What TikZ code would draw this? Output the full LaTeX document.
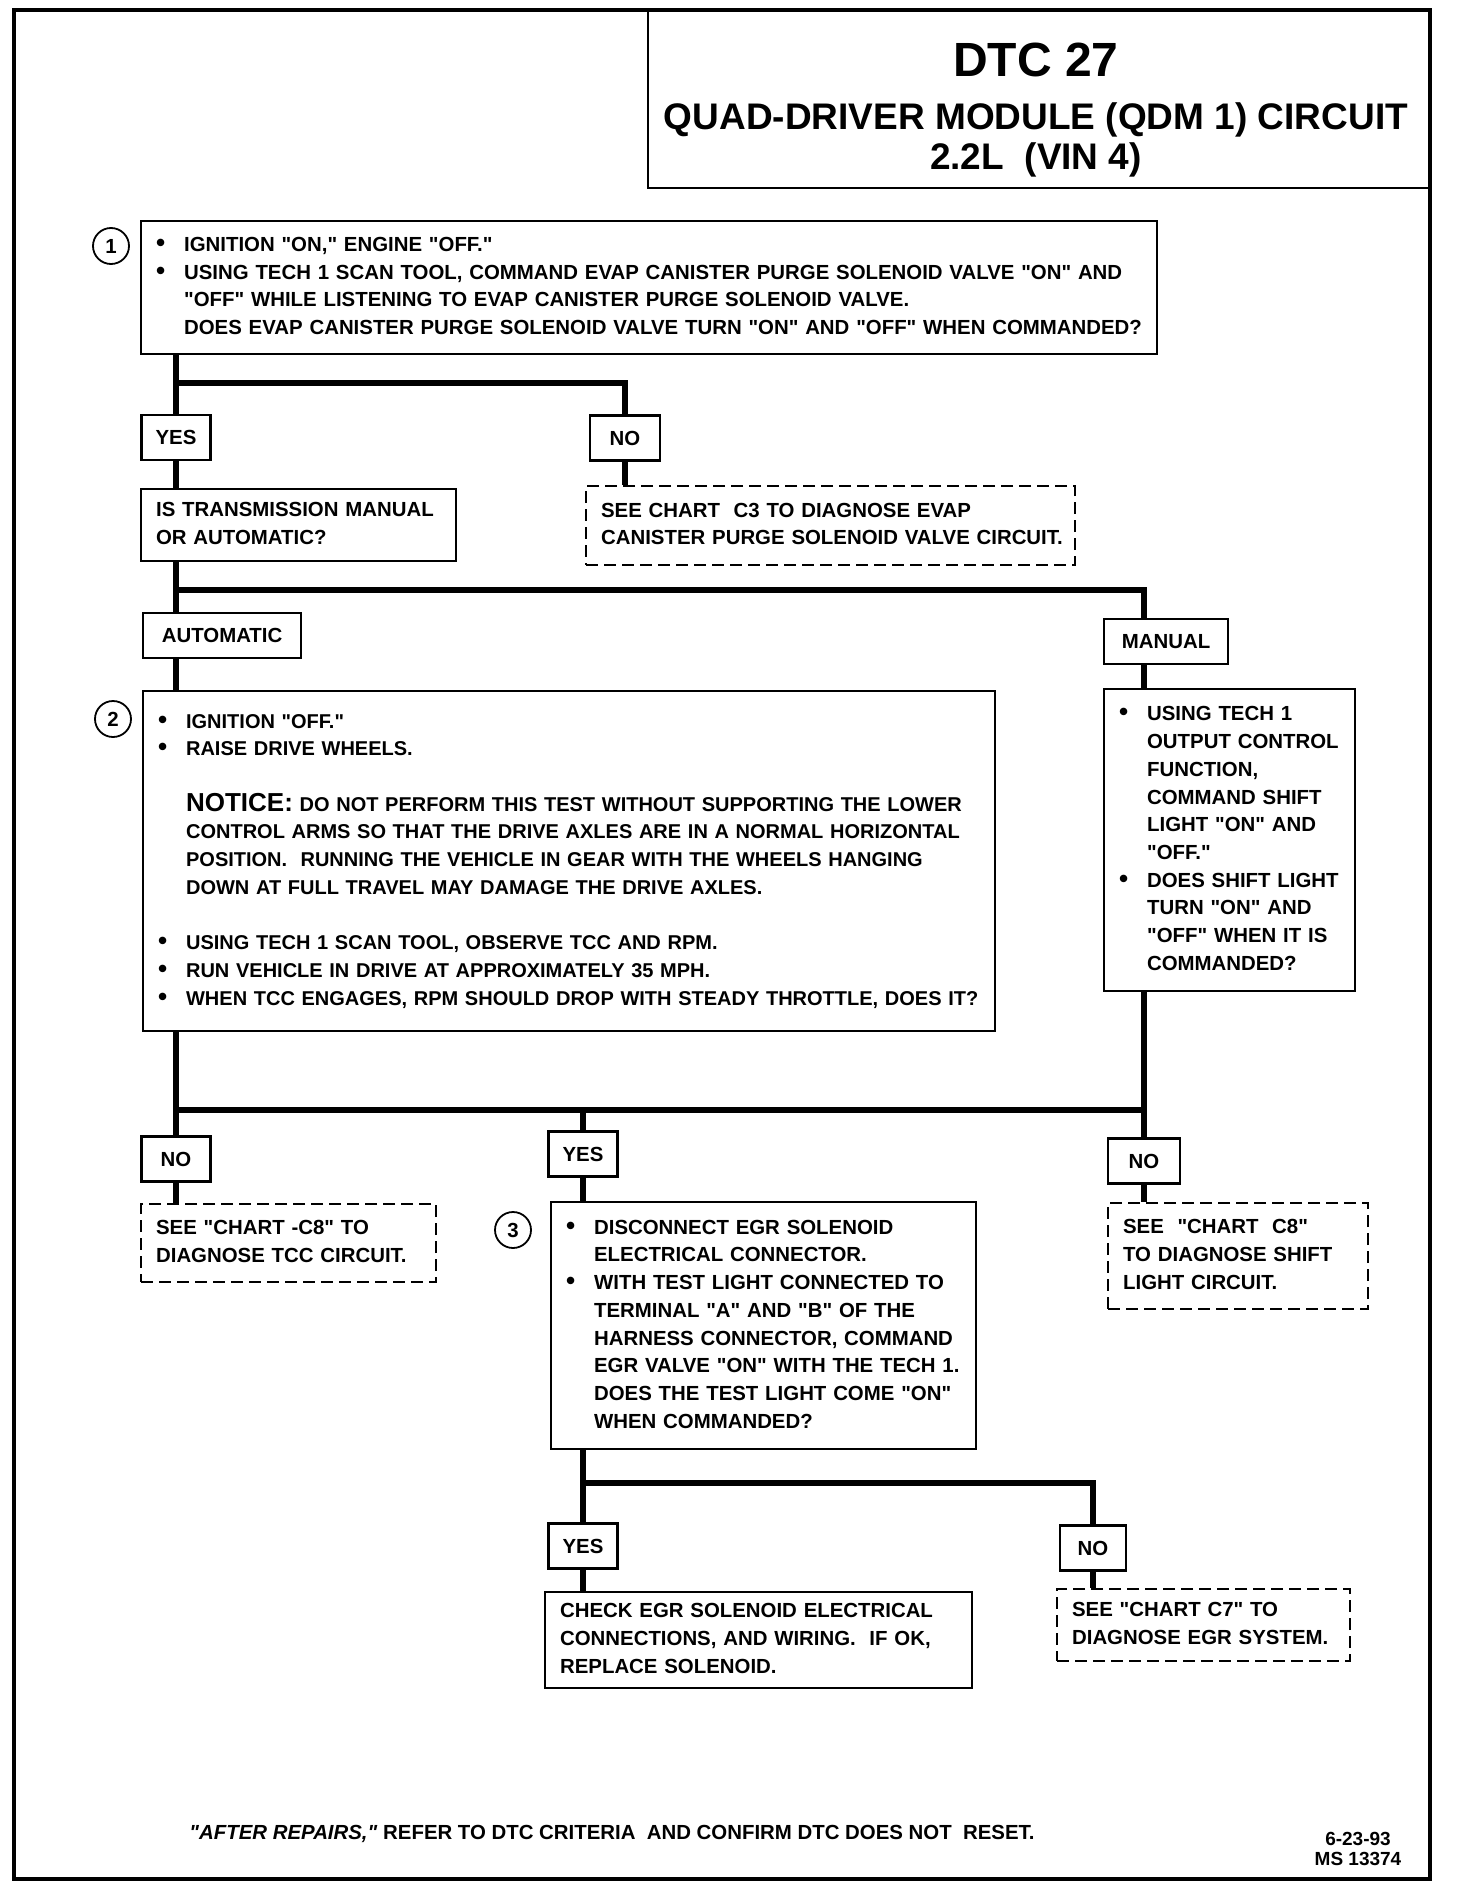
\documentclass[tikz,border=0pt]{standalone}
\usepackage{fontspec}
\setmainfont{Liberation Sans}[Ligatures=TeXOff]
\usepackage{tikz}
\newcommand{\bul}{\makebox[14pt][l]{\fontsize{13}{13}\selectfont\textbullet}}
\newcommand{\indt}{\hspace*{14pt}}
\newcommand{\boxtext}[1]{\begin{tabular}{@{}l@{}}#1\end{tabular}}

\begin{document}
\begin{tikzpicture}[x=0.5pt,y=-0.5pt,
  every node/.style={font=\fontsize{10.2}{13.85}\selectfont\bfseries},
  box/.style={draw,line width=1.1pt,anchor=north west,align=left,inner xsep=7.5pt,inner ysep=0pt},
  dbox/.style={box,dash pattern=on 6pt off 3pt},
  lbl/.style={draw,line width=1.1pt,fill=white,minimum height=22.5pt,minimum width=33pt,inner xsep=7pt},
  num/.style={draw,circle,line width=0.9pt,minimum size=18pt,inner sep=0pt},
  wire/.style={line width=2.6pt}]
\useasboundingbox (0,0) rectangle (1456,1888);
\draw[line width=1.8pt] (14,10) rectangle (1430,1879);
\draw[line width=1.1pt] (648,10) rectangle (1430,188);
\node[font=\fontsize{24}{28}\selectfont\bfseries] (dtc) at (1036,60) {DTC 27};
\node[font=\fontsize{18.5}{20}\selectfont\bfseries,align=center] (name) at (1036,140)
{QUAD-DRIVER MODULE (QDM 1) CIRCUIT\\2.2L\ \ (VIN 4)};

\node[box,text width=493pt,minimum height=66.5pt] (q1) at (140,220) {\boxtext{%
\bul IGNITION "ON," ENGINE "OFF."\\
\bul USING TECH 1 SCAN TOOL, COMMAND EVAP CANISTER PURGE SOLENOID VALVE "ON" AND\\
\indt "OFF" WHILE LISTENING TO EVAP CANISTER PURGE SOLENOID VALVE.\\
\indt DOES EVAP CANISTER PURGE SOLENOID VALVE TURN "ON" AND "OFF" WHEN COMMANDED?}};
\node[num] (n1) at (111,246) {1};

\node[lbl] (yes1) at (176,437.5) {YES};
\node[lbl,minimum width=35pt] (no1) at (625,438) {NO};
\node[box,text width=142.5pt,minimum height=36pt] (trans) at (140,488) {\boxtext{%
IS TRANSMISSION MANUAL\\
OR AUTOMATIC?}};
\node[dbox,text width=229.5pt,minimum height=39.5pt] (c3) at (585,485) {\boxtext{%
SEE CHART\ \ C3 TO DIAGNOSE EVAP\\
CANISTER PURGE SOLENOID VALVE CIRCUIT.}};

\node[lbl,anchor=north west,minimum width=79pt] (auto) at (142,612) {AUTOMATIC};
\node[lbl,anchor=north west,minimum width=62pt] (manl) at (1103,618) {MANUAL};

\node[box,text width=411pt,minimum height=170pt,font=\fontsize{10}{13.85}\selectfont\bfseries] (q2) at (142,690) {\boxtext{%
\bul IGNITION "OFF."\\
\bul RAISE DRIVE WHEELS.\\[13.85pt]
\indt{\fontsize{13}{13.85}\selectfont NOTICE:}\ DO NOT PERFORM THIS TEST WITHOUT SUPPORTING THE LOWER\\
\indt CONTROL ARMS SO THAT THE DRIVE AXLES ARE IN A NORMAL HORIZONTAL\\
\indt POSITION.\ \ RUNNING THE VEHICLE IN GEAR WITH THE WHEELS HANGING\\
\indt DOWN AT FULL TRAVEL MAY DAMAGE THE DRIVE AXLES.\\[13.85pt]
\bul USING TECH 1 SCAN TOOL, OBSERVE TCC AND RPM.\\
\bul RUN VEHICLE IN DRIVE AT APPROXIMATELY 35 MPH.\\
\bul WHEN TCC ENGAGES, RPM SHOULD DROP WITH STEADY THROTTLE, DOES IT?}};
\node[num] (n2) at (113,719) {2};

\node[box,text width=110.5pt,minimum height=151pt] (man) at (1103,688) {\boxtext{%
\bul USING TECH 1\\
\indt OUTPUT CONTROL\\
\indt FUNCTION,\\
\indt COMMAND SHIFT\\
\indt LIGHT "ON" AND\\
\indt "OFF."\\
\bul DOES SHIFT LIGHT\\
\indt TURN "ON" AND\\
\indt "OFF" WHEN IT IS\\
\indt COMMANDED?}};

\node[lbl,minimum width=34.5pt] (no3) at (176,1159) {NO};
\node[lbl] (yes3) at (583,1154) {YES};
\node[lbl,minimum width=36pt] (no4) at (1144,1161) {NO};

\node[dbox,text width=132.5pt,minimum height=39pt] (c8a) at (140,1203) {\boxtext{%
SEE "CHART -C8" TO\\
DIAGNOSE TCC CIRCUIT.}};
\node[box,text width=197.5pt,minimum height=123.5pt] (q3) at (550,1201) {\boxtext{%
\bul DISCONNECT EGR SOLENOID\\
\indt ELECTRICAL CONNECTOR.\\
\bul WITH TEST LIGHT CONNECTED TO\\
\indt TERMINAL "A" AND "B" OF THE\\
\indt HARNESS CONNECTOR, COMMAND\\
\indt EGR VALVE "ON" WITH THE TECH 1.\\
\indt DOES THE TEST LIGHT COME "ON"\\
\indt WHEN COMMANDED?}};
\node[num] (n3) at (513,1230) {3};
\node[dbox,text width=115pt,minimum height=53pt] (c8b) at (1107,1202) {\boxtext{%
SEE\ \ "CHART\ \ C8"\\
TO DIAGNOSE SHIFT\\
LIGHT CIRCUIT.}};

\node[lbl] (yes4) at (583,1546) {YES};
\node[lbl] (no5) at (1093,1548) {NO};
\node[box,text width=198.5pt,minimum height=48pt] (fix) at (544,1591) {\boxtext{%
CHECK EGR SOLENOID ELECTRICAL\\
CONNECTIONS, AND WIRING.\ \ IF OK,\\
REPLACE SOLENOID.}};
\node[dbox,text width=131.5pt,minimum height=36pt] (c7) at (1056,1588) {\boxtext{%
SEE "CHART C7" TO\\
DIAGNOSE EGR SYSTEM.}};

\node (note) at (612,1834) {\textit{"AFTER REPAIRS,"} REFER TO DTC CRITERIA\ \ AND CONFIRM DTC DOES NOT\ \ RESET.};
\node[font=\fontsize{9.5}{10}\selectfont\bfseries,align=center] (date) at (1358,1849) {6-23-93\\MS 13374};

\coordinate (s1) at (176,383);
\coordinate (s2) at (176,590);
\coordinate (s2r) at (1144,590);
\coordinate (s3) at (176,1110);
\coordinate (s3r) at (1144,1110);
\coordinate (s4) at (583,1483);

\draw[wire] (q1.south -| s1) -- (s1) -| (no1.north);
\draw[wire] (s1) -- (yes1.north);
\draw[wire] (yes1.south) -- (yes1.south |- trans.north);
\draw[wire] (no1.south) -- (no1.south |- c3.north);
\draw[wire] (trans.south -| s2) -- (s2) -- (s2r) -- (s2r |- manl.north);
\draw[wire] (s2) -- (s2 |- auto.north);
\draw[wire] (s2 |- auto.south) -- (s2 |- q2.north);
\draw[wire] (s2r |- manl.south) -- (s2r |- man.north);
\draw[wire] (s2 |- q2.south) -- (s3) -- (no3.north);
\draw[wire] (s3) -- (s3r);
\draw[wire] (s3r |- man.south) -- (no4.north);
\draw[wire] (s3 -| yes3) -- (yes3.north);
\draw[wire] (no3.south) -- (no3.south |- c8a.north);
\draw[wire] (yes3.south) -- (yes3.south |- q3.north);
\draw[wire] (no4.south) -- (no4.south |- c8b.north);
\draw[wire] (q3.south -| s4) -- (s4) -| (no5.north);
\draw[wire] (s4) -- (yes4.north);
\draw[wire] (yes4.south) -- (yes4.south |- fix.north);
\draw[wire] (no5.south) -- (no5.south |- c7.north);
\end{tikzpicture}
\end{document}
